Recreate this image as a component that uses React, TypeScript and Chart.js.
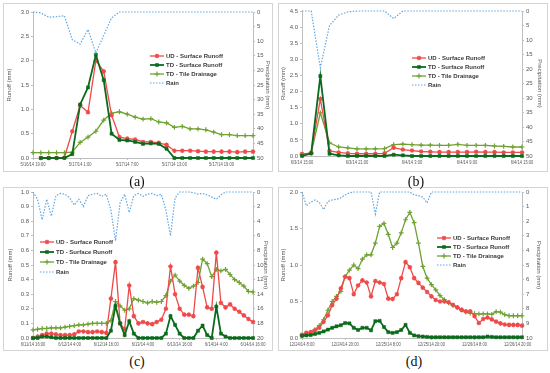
import React, { useEffect, useRef } from 'react';
import { Chart, registerables } from 'chart.js';
import { drawPoint } from 'chart.js/helpers';

Chart.register(...registerables);

// ---------- Panel (a) : hourly from 5/16/14 19:00 ----------
const aTicks = ['5/16/14 19:00', '5/17/14 1:00', '5/17/14 7:00', '5/17/14 13:00', '5/17/14 19:00'];
const aUD = [null, 0, 0, 0, 0.01, 0.55, 1.08, 0.94, 2.0, 1.78, 0.88, 0.43, 0.40, 0.38, 0.33, 0.33, 0.31, 0.27, 0.15, 0.15, 0.15, 0.14, 0.13, 0.13, 0.13, 0.13, 0.12, 0.13, 0.13];
const aTDS = [null, 0, 0, 0, 0, 0.08, 1.1, 1.45, 2.12, 1.6, 0.5, 0.37, 0.36, 0.33, 0.29, 0.30, 0.29, 0.19, 0, 0, 0, 0, 0, 0, 0, 0, 0, 0, 0];
const aTile = [0.11, 0.11, 0.11, 0.11, 0.11, 0.12, 0.32, 0.43, 0.55, 0.78, 0.92, 0.95, 0.90, 0.84, 0.80, 0.81, 0.74, 0.72, 0.63, 0.65, 0.60, 0.60, 0.58, 0.53, 0.48, 0.48, 0.46, 0.46, 0.46];
const aRain = [0, 0.3, 1.8, 1.6, 1.3, 9.5, 11, 6, 14, 8, 2, 0, 0, 0, 0, 0, 0, 0, 0, 0, 0, 0, 0, 0, 0, 0, 0, 0, 0];

// ---------- Panel (b) ----------
const bTicks = ['6/3/14 15:00', '6/3/14 21:00', '6/4/14 3:00', '6/4/14 9:00', '6/4/14 15:00'];
const bUD = [0.06, 0.1, 1.77, 0.16, 0.11, 0.08, 0.07, 0.07, 0.07, 0.08, 0.26, 0.2, 0.17, 0.14, 0.13, 0.12, 0.12, 0.12, 0.12, 0.13, 0.12, 0.12, 0.11, 0.11, 0.11];
const bTDS = [0.0, 0.08, 2.48, 0.07, 0.02, 0, 0, 0, 0, 0, 0.04, 0.02, 0, 0, 0, 0, 0, 0, 0, 0, 0, 0, 0, 0, 0];
const bTile = [0.05, 0.08, 1.34, 0.41, 0.28, 0.25, 0.22, 0.22, 0.22, 0.23, 0.35, 0.37, 0.35, 0.34, 0.34, 0.33, 0.33, 0.36, 0.33, 0.33, 0.33, 0.31, 0.30, 0.28, 0.28];
const bRain = [0, 0, 19.5, 5, 1.4, 0.3, 0, 0, 0, 0, 2.6, 0, 0, 0, 0, 0, 0, 0, 0, 0, 0, 0, 0, 0, 0];

// ---------- Panel (c) ----------
const cTicks = ['6/11/14 16:00', '6/12/14 4:00', '6/12/14 16:00', '6/13/14 4:00', '6/13/14 16:00', '6/14/14 4:00', '6/14/14 16:00'];
const cUD = [0.0, 0.01, 0.02, 0.03, 0.03, 0.025, 0.02, 0.02, 0.02, 0.025, 0.045, 0.045, 0.04, 0.04, 0.045, 0.04, 0.035, 0.27, 0.52, 0.10, 0.06, 0.36, 0.15, 0.10, 0.11, 0.10, 0.095, 0.11, 0.125, 0.20, 0.49, 0.30, 0.20, 0.16, 0.16, 0.15, 0.48, 0.35, 0.21, 0.20, 0.585, 0.24, 0.21, 0.23, 0.20, 0.18, 0.155, 0.13, 0.11];
const cTDS = [0, 0, 0.01, 0.01, 0.005, 0, 0, 0, 0, 0, 0, 0, 0, 0, 0, 0, 0, 0.05, 0.22, 0.10, 0.02, 0.115, 0.03, 0, 0, 0, 0, 0, 0, 0.03, 0.15, 0.09, 0.03, 0, 0, 0, 0.05, 0.085, 0.02, 0, 0.215, 0.03, 0.01, 0, 0, 0, 0, 0, 0];
const cTile = [0.055, 0.06, 0.065, 0.065, 0.07, 0.07, 0.07, 0.075, 0.08, 0.085, 0.09, 0.09, 0.095, 0.10, 0.10, 0.10, 0.10, 0.12, 0.25, 0.22, 0.19, 0.20, 0.27, 0.26, 0.25, 0.24, 0.25, 0.245, 0.25, 0.29, 0.39, 0.43, 0.39, 0.36, 0.34, 0.355, 0.38, 0.54, 0.51, 0.42, 0.47, 0.46, 0.47, 0.435, 0.40, 0.38, 0.355, 0.32, 0.315];
const cRain = [0, 1.0, 3.8, 1.0, 3.3, 0.5, 0.2, 0.3, 0.8, 1.8, 1.0, 2.0, 0.5, 0.3, 0.2, 0.6, 0.3, 2.5, 6.7, 1.5, 0.3, 2.8, 0.5, 0.2, 0.6, 0.3, 0.2, 0.5, 0.3, 2.5, 6.0, 0.8, 0, 0, 0, 0.1, 0.3, 0.2, 0.4, 0.7, 1.0, 0.4, 0, 0, 0, 0, 0, 0, 0];

// ---------- Panel (d) ----------
const dTicks = ['12/24/14 8:00', '12/24/14 20:00', '12/25/14 8:00', '12/25/14 20:00', '12/26/14 8:00', '12/26/14 20:00'];
const dUD = [0.045, 0.07, 0.08, 0.105, 0.14, 0.22, 0.31, 0.45, 0.54, 0.68, 0.84, 0.82, 0.6, 0.72, 0.79, 0.76, 0.57, 0.78, 0.76, 0.74, 0.54, 0.535, 0.6, 0.82, 1.04, 0.97, 0.82, 0.755, 0.69, 0.63, 0.57, 0.52, 0.50, 0.50, 0.49, 0.455, 0.42, 0.385, 0.365, 0.365, 0.30, 0.205, 0.26, 0.28, 0.255, 0.225, 0.20, 0.185, 0.18, 0.18, 0.18, 0.17];
const dTDS = [0.03, 0.035, 0.04, 0.055, 0.07, 0.09, 0.115, 0.14, 0.16, 0.175, 0.205, 0.2, 0.14, 0.11, 0.14, 0.14, 0.105, 0.23, 0.235, 0.15, 0.08, 0.07, 0.08, 0.11, 0.18, 0.07, 0.035, 0.025, 0.02, 0.015, 0.01, 0.01, 0.01, 0.01, 0.01, 0.01, 0.01, 0.01, 0.01, 0.01, 0.01, 0.01, 0.01, 0.02, 0.015, 0.01, 0.01, 0.01, 0.01, 0.01, 0.01, 0.01];
const dTile = [0.03, 0.05, 0.07, 0.115, 0.17, 0.25, 0.38, 0.5, 0.57, 0.64, 0.84, 0.93, 1.0, 0.95, 1.08, 1.14, 1.14, 1.3, 1.53, 1.57, 1.42, 1.24, 1.3, 1.44, 1.62, 1.72, 1.58, 1.30, 0.98, 0.82, 0.73, 0.66, 0.58, 0.525, 0.48, 0.445, 0.415, 0.385, 0.355, 0.34, 0.335, 0.33, 0.33, 0.33, 0.325, 0.36, 0.355, 0.32, 0.305, 0.305, 0.305, 0.305];
const dRain = [0, 0.95, 0.7, 0.55, 0.7, 1.2, 0.65, 0.55, 0.5, 0.4, 0.2, 0.05, 0, 0, 0, 0, 0, 1.5, 0, 0, 0, 0, 0, 0, 0, 0, 0.2, 0.25, 0.35, 0.75, 0, 0, 0, 0, 0, 0, 0, 0, 0, 0, 0, 0, 0, 0, 0, 0, 0, 0, 0, 0, 0, 0];

const seriesNames = ['UD - Surface Runoff', 'TD - Surface Runoff', 'TD - Tile Drainage', 'Rain'];

const RED = '#ef4a4a';
const DKGREEN = '#0b6a1c';
const OLIVE = '#6fa232';
const BLUE = '#5fa6e2';
const AXIS = '#bfbfbf';
const TXT = '#595959';
const FONT = '"Liberation Sans", Arial, sans-serif';

type PanelCfg = {
  canvas: { x: number; y: number; w: number; h: number };
  plot: { l: number; t: number; r: number; b: number };
  frame: { x: number; y: number; w: number; h: number };
  label: string;
  labelPos: { x: number; y: number };
  xMax: number;
  xStep: number;
  xTicks: string[];
  yMax: number;
  yStep: number;
  y1Max: number;
  y1Step: number;
  ud: (number | null)[];
  tds: (number | null)[];
  tile: (number | null)[];
  rain: (number | null)[];
  legend: { x: number; y: number; dy: number };
  titlePadL: number;
  titlePadR: number;
};

const panels: PanelCfg[] = [
  {
    canvas: { x: 0, y: 0, w: 275, h: 175 }, plot: { l: 33, t: 12, r: 253, b: 158 },
    frame: { x: 3, y: 3, w: 269, h: 168 }, label: '(a)', labelPos: { x: 137, y: 182 },
    xMax: 28, xStep: 6, xTicks: aTicks, yMax: 3, yStep: 0.5, y1Max: 50, y1Step: 5,
    ud: aUD, tds: aTDS, tile: aTile, rain: aRain, legend: { x: 150, y: 56, dy: 9 },
    titlePadL: 6, titlePadR: 3.5,
  },
  {
    canvas: { x: 275, y: 0, w: 275, h: 175 }, plot: { l: 27, t: 11, r: 247, b: 156 },
    frame: { x: 278, y: 3, w: 269, h: 168 }, label: '(b)', labelPos: { x: 416, y: 182 },
    xMax: 24, xStep: 6, xTicks: bTicks, yMax: 4.5, yStep: 0.5, y1Max: 50, y1Step: 5,
    ud: bUD, tds: bTDS, tile: bTile, rain: bRain, legend: { x: 137, y: 58, dy: 9 },
    titlePadL: 4.5, titlePadR: 6.5,
  },
  {
    canvas: { x: 0, y: 186, w: 275, h: 165 }, plot: { l: 33, t: 6, r: 253, b: 152 },
    frame: { x: 3, y: 187, w: 269, h: 163 }, label: '(c)', labelPos: { x: 137, y: 362 },
    xMax: 48, xStep: 8, xTicks: cTicks, yMax: 1, yStep: 0.1, y1Max: 20, y1Step: 2,
    ud: cUD, tds: cTDS, tile: cTile, rain: cRain, legend: { x: 40, y: 56, dy: 10 },
    titlePadL: 7, titlePadR: 6,
  },
  {
    canvas: { x: 275, y: 186, w: 275, h: 165 }, plot: { l: 27, t: 6, r: 247, b: 152 },
    frame: { x: 278, y: 187, w: 269, h: 163 }, label: '(d)', labelPos: { x: 414, y: 362 },
    xMax: 51, xStep: 10, xTicks: dTicks, yMax: 2, yStep: 0.5, y1Max: 10, y1Step: 1,
    ud: dUD, tds: dTDS, tile: dTile, rain: dRain, legend: { x: 162, y: 52, dy: 9 },
    titlePadL: 4.5, titlePadR: 8,
  },
];

const toXY = (vals: (number | null)[]) => vals.map((v, i) => ({ x: i, y: v }));

// legend drawn inside the plot + narrow (Calibri-like) x tick labels
const inlineLegend = {
  id: 'inlineLegend',
  afterDraw(chart: any, _args: any, opts: any) {
    const { ctx } = chart;
    const { x, y, dy, labels } = opts;
    chart.data.datasets.forEach((ds: any, i: number) => {
      const yy = y + i * dy;
      ctx.save();
      ctx.strokeStyle = ds.borderColor;
      ctx.lineWidth = ds.borderWidth;
      ctx.setLineDash(ds.borderDash || []);
      ctx.beginPath();
      ctx.moveTo(x, yy);
      ctx.lineTo(x + 14, yy);
      ctx.stroke();
      ctx.setLineDash([]);
      if (ds.pointRadius > 0) {
        ctx.fillStyle = ds.pointBackgroundColor;
        ctx.strokeStyle = ds.pointBorderColor;
        ctx.lineWidth = ds.pointBorderWidth;
        drawPoint(ctx, { pointStyle: ds.pointStyle, rotation: 0, radius: ds.pointRadius, borderWidth: ds.pointBorderWidth }, x + 7, yy);
      }
      ctx.fillStyle = '#3a3a3a';
      ctx.font = `bold 6px ${FONT}`;
      ctx.textBaseline = 'middle';
      ctx.textAlign = 'left';
      ctx.fillText(ds.label, x + 16, yy + 0.5);
      ctx.restore();
    });
    const xs = chart.scales.x;
    ctx.save();
    ctx.fillStyle = TXT;
    ctx.font = `6px ${FONT}`;
    ctx.textAlign = 'center';
    ctx.textBaseline = 'top';
    xs.ticks.forEach((t: any, i: number) => {
      const px = xs.getPixelForValue(t.value);
      ctx.save();
      ctx.translate(px, xs.top + 3);
      ctx.scale(0.68, 1);
      ctx.fillText(labels[i], 0, 0);
      ctx.restore();
    });
    ctx.restore();
  },
};

function PanelChart({ p }: { p: PanelCfg }) {
  const ref = useRef<HTMLCanvasElement>(null);
  useEffect(() => {
    const tickFont = { family: FONT, size: 6 };
    const chart = new Chart(ref.current as HTMLCanvasElement, {
      type: 'line',
      data: {
        datasets: [
          {
            label: seriesNames[0], data: toXY(p.ud), yAxisID: 'y', borderColor: RED, borderWidth: 1.3,
            pointStyle: 'star', pointRadius: 2.3, pointBorderWidth: 1.2, pointBackgroundColor: RED, pointBorderColor: RED,
            clip: false, order: 3,
          },
          {
            label: seriesNames[1], data: toXY(p.tds), yAxisID: 'y', borderColor: DKGREEN, borderWidth: 1.8,
            pointStyle: 'rect', pointRadius: 2.2, pointBorderWidth: 0.5, pointBackgroundColor: DKGREEN, pointBorderColor: DKGREEN,
            clip: false, order: 2,
          },
          {
            label: seriesNames[2], data: toXY(p.tile), yAxisID: 'y', borderColor: OLIVE, borderWidth: 1.3,
            pointStyle: 'cross', pointRadius: 2.4, pointBorderWidth: 1.2, pointBackgroundColor: OLIVE, pointBorderColor: OLIVE,
            clip: false, order: 4,
          },
          {
            label: seriesNames[3], data: toXY(p.rain), yAxisID: 'y1', borderColor: BLUE, borderWidth: 1.2,
            borderDash: [1.5, 1.5], pointRadius: 0, clip: false, order: 1,
          },
        ] as any,
      },
      options: {
        animation: false,
        responsive: false,
        events: [],
        layout: { padding: { top: p.plot.t, left: 0, right: 0, bottom: 0 } },
        elements: { line: { tension: 0, fill: false } },
        plugins: {
          legend: { display: false },
          tooltip: { enabled: false },
          inlineLegend: { ...p.legend, labels: p.xTicks },
        } as any,
        scales: {
          x: {
            type: 'linear', min: 0, max: p.xMax, position: 'bottom',
            afterBuildTicks: (s: any) => { s.ticks = p.xTicks.map((_, i) => ({ value: i * p.xStep })); },
            afterFit: (s: any) => { s.height = p.canvas.h - p.plot.b; },
            ticks: { display: false, autoSkip: false, maxRotation: 0, minRotation: 0 },
            grid: { display: true, drawOnChartArea: false, drawTicks: true, tickLength: 2, color: AXIS },
            border: { display: true, color: AXIS },
          },
          y: {
            type: 'linear', position: 'left', min: 0, max: p.yMax,
            afterFit: (s: any) => { s.width = p.plot.l; },
            ticks: { stepSize: p.yStep, padding: 2, color: TXT, font: tickFont, callback: (v: any) => Number(v).toFixed(1) },
            grid: { display: true, drawOnChartArea: false, drawTicks: true, tickLength: 2, color: AXIS },
            border: { display: true, color: AXIS },
            title: { display: true, text: 'Runoff (mm)', color: TXT, font: tickFont, padding: { top: p.titlePadL, bottom: 0 } },
          },
          y1: {
            type: 'linear', position: 'right', min: 0, max: p.y1Max, reverse: true,
            afterFit: (s: any) => { s.width = p.canvas.w - p.plot.r; },
            ticks: { stepSize: p.y1Step, padding: 2, color: TXT, font: tickFont, callback: (v: any) => String(Math.round(Number(v))) },
            grid: { display: true, drawOnChartArea: false, drawTicks: true, tickLength: 2, color: AXIS },
            border: { display: true, color: AXIS },
            title: { display: true, text: 'Precipitation (mm)', color: TXT, font: tickFont, padding: { top: p.titlePadR, bottom: 0 } },
          },
        } as any,
      },
      plugins: [inlineLegend as any],
    });
    return () => chart.destroy();
  }, [p]);
  return (
    <canvas
      ref={ref}
      width={p.canvas.w}
      height={p.canvas.h}
      style={{ position: 'absolute', left: p.canvas.x, top: p.canvas.y, width: p.canvas.w, height: p.canvas.h }}
    />
  );
}

export default function App() {
  return (
    <div style={{ position: 'absolute', left: 0, top: 0, width: 550, height: 373, background: '#ffffff', overflow: 'hidden' }}>
      {panels.map((p, i) => (
        <div
          key={'f' + i}
          style={{
            position: 'absolute', left: p.frame.x, top: p.frame.y, width: p.frame.w - 1, height: p.frame.h - 1,
            border: '1px solid #d4d4d4',
          }}
        />
      ))}
      {panels.map((p, i) => (
        <PanelChart key={'c' + i} p={p} />
      ))}
      {panels.map((p, i) => (
        <div
          key={'l' + i}
          style={{
            position: 'absolute', left: p.labelPos.x - 20, top: p.labelPos.y - 9, width: 40, textAlign: 'center',
            font: '14px "Liberation Serif", "Times New Roman", serif', color: '#111', lineHeight: '18px',
          }}
        >
          {p.label}
        </div>
      ))}
    </div>
  );
}
